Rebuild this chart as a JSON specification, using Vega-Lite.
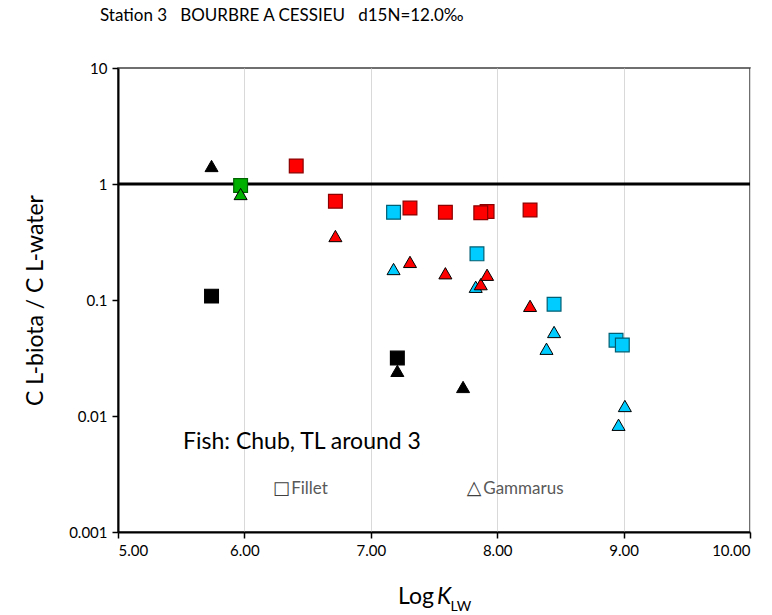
{
  "$schema": "https://vega.github.io/schema/vega-lite/v6.json",
  "width": 632,
  "height": 464,
  "autosize": {"type": "none"},
  "padding": {"left": 118, "top": 68, "right": 22, "bottom": 83},
  "background": "white",
  "title": {
    "text": "Station 3\u00a0\u00a0\u00a0BOURBRE A CESSIEU\u00a0\u00a0\u00a0d15N=12.0‰",
    "anchor": "start",
    "frame": "group",
    "dx": -18,
    "offset": 36,
    "font": "Lato",
    "fontSize": 17,
    "fontWeight": "normal",
    "color": "black"
  },
  "datasets": {
    "pts": [
      {"logk": 5.74, "ratio": 0.108, "group": "black", "tissue": "Fillet"},
      {"logk": 5.97, "ratio": 0.97, "group": "green", "tissue": "Fillet"},
      {"logk": 6.41, "ratio": 1.43, "group": "red", "tissue": "Fillet"},
      {"logk": 6.72, "ratio": 0.71, "group": "red", "tissue": "Fillet"},
      {"logk": 7.18, "ratio": 0.57, "group": "cyan", "tissue": "Fillet"},
      {"logk": 7.31, "ratio": 0.62, "group": "red", "tissue": "Fillet"},
      {"logk": 7.59, "ratio": 0.57, "group": "red", "tissue": "Fillet"},
      {"logk": 7.92, "ratio": 0.58, "group": "red", "tissue": "Fillet"},
      {"logk": 7.87, "ratio": 0.565, "group": "red", "tissue": "Fillet"},
      {"logk": 7.84, "ratio": 0.25, "group": "cyan", "tissue": "Fillet"},
      {"logk": 8.26, "ratio": 0.597, "group": "red", "tissue": "Fillet"},
      {"logk": 8.45, "ratio": 0.092, "group": "cyan", "tissue": "Fillet"},
      {"logk": 8.94, "ratio": 0.045, "group": "cyan", "tissue": "Fillet"},
      {"logk": 8.99, "ratio": 0.041, "group": "cyan", "tissue": "Fillet"},
      {"logk": 7.21, "ratio": 0.0316, "group": "black", "tissue": "Fillet"},
      {"logk": 5.74, "ratio": 1.43, "group": "black", "tissue": "Gammarus"},
      {"logk": 5.97, "ratio": 0.82, "group": "green", "tissue": "Gammarus"},
      {"logk": 6.72, "ratio": 0.356, "group": "red", "tissue": "Gammarus"},
      {"logk": 7.18, "ratio": 0.185, "group": "cyan", "tissue": "Gammarus"},
      {"logk": 7.31, "ratio": 0.213, "group": "red", "tissue": "Gammarus"},
      {"logk": 7.59, "ratio": 0.17, "group": "red", "tissue": "Gammarus"},
      {"logk": 7.83, "ratio": 0.13, "group": "cyan", "tissue": "Gammarus"},
      {"logk": 7.87, "ratio": 0.137, "group": "red", "tissue": "Gammarus"},
      {"logk": 7.92, "ratio": 0.165, "group": "red", "tissue": "Gammarus"},
      {"logk": 8.26, "ratio": 0.089, "group": "red", "tissue": "Gammarus"},
      {"logk": 8.45, "ratio": 0.053, "group": "cyan", "tissue": "Gammarus"},
      {"logk": 8.39, "ratio": 0.038, "group": "cyan", "tissue": "Gammarus"},
      {"logk": 9.01, "ratio": 0.0122, "group": "cyan", "tissue": "Gammarus"},
      {"logk": 8.96, "ratio": 0.0084, "group": "cyan", "tissue": "Gammarus"},
      {"logk": 7.21, "ratio": 0.0245, "group": "black", "tissue": "Gammarus"},
      {"logk": 7.73, "ratio": 0.0178, "group": "black", "tissue": "Gammarus"}
    ]
  },
  "layer": [
    {
      "data": {"values": [{}]},
      "mark": {"type": "rule", "color": "black", "strokeWidth": 3},
      "encoding": {
        "y": {
          "datum": 1,
          "type": "quantitative",
          "scale": {"type": "log", "domain": [0.001, 10]},
          "axis": {
            "values": [0.001, 0.01, 0.1, 1, 10],
            "labelExpr": "datum.value >= 1 ? format(datum.value, 'd') : format(datum.value, '.3~f')",
            "title": "C L-biota / C L-water",
            "titleFont": "Lato",
            "titleFontSize": 23,
            "titleFontWeight": "normal",
            "titleColor": "black",
            "titleX": -83,
            "titleY": 232,
            "titleBaseline": "middle",
            "titleAngle": -90
          }
        }
      }
    },
    {
      "data": {"name": "pts"},
      "transform": [{"filter": "datum.tissue == 'Fillet'"}],
      "mark": {"type": "point", "shape": "square", "filled": true, "size": 190, "strokeWidth": 1.2, "opacity": 1},
      "encoding": {
        "x": {
          "field": "logk",
          "type": "quantitative",
          "scale": {"domain": [5, 10], "nice": false, "zero": false},
          "axis": {"values": [5, 6, 7, 8, 9, 10], "format": ".2f", "title": null}
        },
        "y": {"field": "ratio", "type": "quantitative", "scale": {"type": "log", "domain": [0.001, 10]}},
        "color": {
          "field": "group",
          "type": "nominal",
          "scale": {"domain": ["black", "green", "red", "cyan"], "range": ["#000000", "#00B000", "#FF0000", "#00CCFF"]},
          "legend": null
        },
        "stroke": {
          "field": "group",
          "type": "nominal",
          "scale": {"domain": ["black", "green", "red", "cyan"], "range": ["#000000", "#006400", "#8B0000", "#005f73"]},
          "legend": null
        }
      }
    },
    {
      "data": {"name": "pts"},
      "transform": [{"filter": "datum.tissue == 'Gammarus'"}],
      "mark": {"type": "point", "shape": "triangle-up", "filled": true, "size": 170, "stroke": "black", "strokeWidth": 1, "opacity": 1},
      "encoding": {
        "x": {"field": "logk", "type": "quantitative"},
        "y": {"field": "ratio", "type": "quantitative"},
        "color": {"field": "group", "type": "nominal", "legend": null}
      }
    },
    {
      "data": {"values": [{}]},
      "mark": {"type": "text", "font": "Lato", "fontSize": 23, "align": "left", "baseline": "alphabetic", "color": "black"},
      "encoding": {
        "x": {"datum": 5.514, "type": "quantitative"},
        "y": {"datum": 0.0052, "type": "quantitative"},
        "text": {"value": "Fish: Chub, TL around 3"}
      }
    },
    {
      "data": {"values": [{}]},
      "mark": {"type": "text", "font": "DejaVu Sans", "fontSize": 18, "align": "left", "baseline": "alphabetic", "color": "#404040"},
      "encoding": {
        "x": {"datum": 6.225, "type": "quantitative"},
        "y": {"datum": 0.00213, "type": "quantitative"},
        "text": {"value": "□"}
      }
    },
    {
      "data": {"values": [{}]},
      "mark": {"type": "text", "font": "Lato", "fontSize": 17, "align": "left", "baseline": "alphabetic", "color": "#595959"},
      "encoding": {
        "x": {"datum": 6.37, "type": "quantitative"},
        "y": {"datum": 0.00213, "type": "quantitative"},
        "text": {"value": "Fillet"}
      }
    },
    {
      "data": {"values": [{}]},
      "mark": {"type": "text", "font": "DejaVu Sans", "fontSize": 19, "align": "left", "baseline": "alphabetic", "color": "#404040"},
      "encoding": {
        "x": {"datum": 7.76, "type": "quantitative"},
        "y": {"datum": 0.00213, "type": "quantitative"},
        "text": {"value": "△"}
      }
    },
    {
      "data": {"values": [{}]},
      "mark": {"type": "text", "font": "Lato", "fontSize": 17, "align": "left", "baseline": "alphabetic", "color": "#595959"},
      "encoding": {
        "x": {"datum": 7.89, "type": "quantitative"},
        "y": {"datum": 0.00213, "type": "quantitative"},
        "text": {"value": "Gammarus"}
      }
    },
    {
      "data": {"values": [{}]},
      "mark": {"type": "text", "font": "Lato", "fontSize": 23, "align": "left", "baseline": "alphabetic", "color": "black"},
      "encoding": {
        "x": {"datum": 7.215, "type": "quantitative"},
        "y": {"datum": 0.000239, "type": "quantitative"},
        "text": {"value": "Log"}
      }
    },
    {
      "data": {"values": [{}]},
      "mark": {"type": "text", "font": "Lato", "fontSize": 23, "fontStyle": "italic", "align": "left", "baseline": "alphabetic", "color": "black"},
      "encoding": {
        "x": {"datum": 7.524, "type": "quantitative"},
        "y": {"datum": 0.000239, "type": "quantitative"},
        "text": {"value": "K"}
      }
    },
    {
      "data": {"values": [{}]},
      "mark": {"type": "text", "font": "Lato", "fontSize": 14, "align": "left", "baseline": "alphabetic", "color": "black"},
      "encoding": {
        "x": {"datum": 7.63, "type": "quantitative"},
        "y": {"datum": 0.000208, "type": "quantitative"},
        "text": {"value": "LW"}
      }
    }
  ],
  "config": {
    "view": {"stroke": "#404040", "strokeWidth": 1.5},
    "axis": {
      "labelFont": "Lato",
      "labelFontSize": 15,
      "labelColor": "black",
      "domainColor": "black",
      "domainWidth": 2,
      "tickColor": "black",
      "tickWidth": 1.5,
      "tickSize": 6,
      "gridColor": "#d9d9d9",
      "gridWidth": 1,
      "labelPadding": 5
    }
  }
}
